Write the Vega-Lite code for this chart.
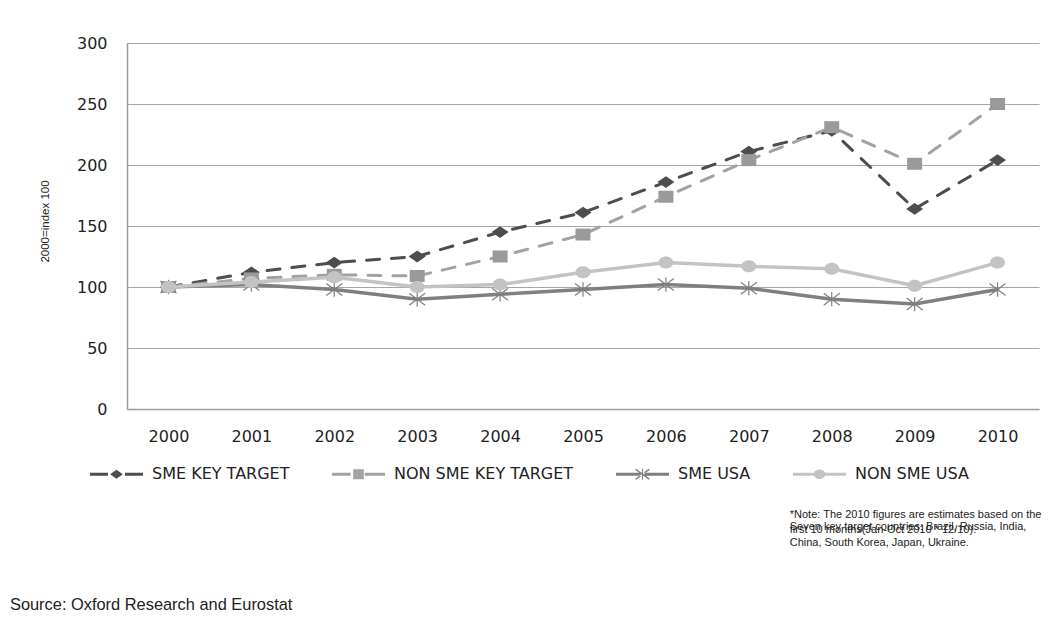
{
  "$schema": "https://vega.github.io/schema/vega-lite/v6.json",
  "width": 912,
  "height": 366,
  "autosize": {"type": "none"},
  "padding": {"left": 127, "top": 43, "right": 9, "bottom": 211},
  "background": "white",
  "config": {"view": {"stroke": null}, "font": "DejaVu Sans"},
  "data": {
    "values": [
      {"year": "2000", "series": "SME KEY TARGET", "value": 100},
      {"year": "2001", "series": "SME KEY TARGET", "value": 112},
      {"year": "2002", "series": "SME KEY TARGET", "value": 120},
      {"year": "2003", "series": "SME KEY TARGET", "value": 125},
      {"year": "2004", "series": "SME KEY TARGET", "value": 145},
      {"year": "2005", "series": "SME KEY TARGET", "value": 161},
      {"year": "2006", "series": "SME KEY TARGET", "value": 186},
      {"year": "2007", "series": "SME KEY TARGET", "value": 211},
      {"year": "2008", "series": "SME KEY TARGET", "value": 228},
      {"year": "2009", "series": "SME KEY TARGET", "value": 164},
      {"year": "2010", "series": "SME KEY TARGET", "value": 204},
      {"year": "2000", "series": "NON SME KEY TARGET", "value": 100},
      {"year": "2001", "series": "NON SME KEY TARGET", "value": 107},
      {"year": "2002", "series": "NON SME KEY TARGET", "value": 110},
      {"year": "2003", "series": "NON SME KEY TARGET", "value": 109},
      {"year": "2004", "series": "NON SME KEY TARGET", "value": 125},
      {"year": "2005", "series": "NON SME KEY TARGET", "value": 143},
      {"year": "2006", "series": "NON SME KEY TARGET", "value": 174},
      {"year": "2007", "series": "NON SME KEY TARGET", "value": 204},
      {"year": "2008", "series": "NON SME KEY TARGET", "value": 231},
      {"year": "2009", "series": "NON SME KEY TARGET", "value": 201},
      {"year": "2010", "series": "NON SME KEY TARGET", "value": 250},
      {"year": "2000", "series": "SME USA", "value": 100},
      {"year": "2001", "series": "SME USA", "value": 102},
      {"year": "2002", "series": "SME USA", "value": 98},
      {"year": "2003", "series": "SME USA", "value": 90},
      {"year": "2004", "series": "SME USA", "value": 94},
      {"year": "2005", "series": "SME USA", "value": 98},
      {"year": "2006", "series": "SME USA", "value": 102},
      {"year": "2007", "series": "SME USA", "value": 99},
      {"year": "2008", "series": "SME USA", "value": 90},
      {"year": "2009", "series": "SME USA", "value": 86},
      {"year": "2010", "series": "SME USA", "value": 98},
      {"year": "2000", "series": "NON SME USA", "value": 100},
      {"year": "2001", "series": "NON SME USA", "value": 104},
      {"year": "2002", "series": "NON SME USA", "value": 108},
      {"year": "2003", "series": "NON SME USA", "value": 100},
      {"year": "2004", "series": "NON SME USA", "value": 102},
      {"year": "2005", "series": "NON SME USA", "value": 112},
      {"year": "2006", "series": "NON SME USA", "value": 120},
      {"year": "2007", "series": "NON SME USA", "value": 117},
      {"year": "2008", "series": "NON SME USA", "value": 115},
      {"year": "2009", "series": "NON SME USA", "value": 101},
      {"year": "2010", "series": "NON SME USA", "value": 120}
    ]
  },
  "encoding": {
    "x": {
      "field": "year",
      "type": "ordinal",
      "scale": {"type": "point", "padding": 0.5},
      "axis": {
        "title": null,
        "labelAngle": 0,
        "labelFont": "DejaVu Sans",
        "labelFontSize": 16,
        "labelColor": "#222222",
        "labelPadding": 19,
        "ticks": false,
        "domainColor": "#9a9a9a",
        "domainWidth": 1.5,
        "grid": false
      }
    },
    "y": {
      "field": "value",
      "type": "quantitative",
      "scale": {"domain": [0, 300], "nice": false},
      "axis": {
        "title": "2000=index 100",
        "values": [0, 50, 100, 150, 200, 250, 300],
        "titleFont": "Liberation Sans",
        "titleFontSize": 11.5,
        "titleFontWeight": "normal",
        "titleColor": "#222222",
        "titleX": -82,
        "titleY": 178,
        "titleBaseline": "middle",
        "labelFont": "DejaVu Sans",
        "labelFontSize": 16,
        "labelColor": "#222222",
        "labelPadding": 20,
        "ticks": false,
        "domainColor": "#9a9a9a",
        "domainWidth": 1.5,
        "gridColor": "#a6a6a6",
        "gridWidth": 1
      }
    }
  },
  "layer": [
    {
      "transform": [{"filter": "datum.series === 'SME KEY TARGET'"}],
      "mark": {"type": "line", "strokeWidth": 3, "strokeCap": "round", "strokeDash": [13, 12], "color": "#4d4d4d"}
    },
    {
      "transform": [{"filter": "datum.series === 'SME KEY TARGET'"}],
      "mark": {"type": "point", "shape": "M-1,0L0,-0.7L1,0L0,0.7Z", "filled": true, "color": "#4d4d4d", "size": 289, "opacity": 1}
    },
    {
      "transform": [{"filter": "datum.series === 'NON SME KEY TARGET'"}],
      "mark": {"type": "line", "strokeWidth": 3, "strokeCap": "round", "strokeDash": [13, 12], "color": "#a2a2a2"}
    },
    {
      "transform": [{"filter": "datum.series === 'NON SME KEY TARGET'"}],
      "mark": {"type": "point", "shape": "M-1,-0.8L1,-0.8L1,0.8L-1,0.8Z", "filled": true, "color": "#9a9a9a", "size": 225, "opacity": 1}
    },
    {
      "transform": [{"filter": "datum.series === 'SME USA'"}],
      "mark": {"type": "line", "strokeWidth": 3.5, "strokeCap": "round", "color": "#7f7f7f"}
    },
    {
      "transform": [{"filter": "datum.series === 'SME USA'"}],
      "mark": {"type": "point", "shape": "M-1,-0.75L1,0.75M-1,0.75L1,-0.75M0,-0.9L0,0.9", "filled": false, "color": "#808080", "strokeWidth": 1.2, "size": 256, "opacity": 1}
    },
    {
      "transform": [{"filter": "datum.series === 'NON SME USA'"}],
      "mark": {"type": "line", "strokeWidth": 3.5, "strokeCap": "round", "color": "#c3c3c3"}
    },
    {
      "transform": [{"filter": "datum.series === 'NON SME USA'"}],
      "mark": {"type": "point", "shape": "M-1,0A1,0.8 0 1,1 1,0A1,0.8 0 1,1 -1,0Z", "filled": true, "color": "#c3c3c3", "size": 225, "opacity": 1}
    },
    {
      "transform": [{"filter": "datum.year === '2000'"}],
      "mark": {"type": "point", "filled": true},
      "encoding": {
        "y": {"datum": 3000},
        "fill": {
          "field": "series",
          "type": "nominal",
          "scale": {
            "domain": ["SME KEY TARGET", "NON SME KEY TARGET", "SME USA", "NON SME USA"],
            "range": ["#4d4d4d", "#a2a2a2", "#7f7f7f", "#c3c3c3"]
          },
          "legend": {
            "title": null, "orient": "none", "legendX": -37, "legendY": 404.5,
            "direction": "horizontal", "symbolSize": 2809, "symbolStrokeWidth": 0,
            "symbolOpacity": 1,
            "labelFont": "DejaVu Sans", "labelFontSize": 16,
            "labelColor": "#222222", "labelOffset": 9, "columnPadding": 42,
            "padding": 0, "labelLimit": 400
          }
        },
        "shape": {
          "field": "series",
          "type": "nominal",
          "scale": {
            "domain": ["SME KEY TARGET", "NON SME KEY TARGET", "SME USA", "NON SME USA"],
            "range": [
              "M-1,-0.057L-0.32,-0.057L-0.32,0.057L-1,0.057Z M-0.24,0L0,-0.17L0.24,0L0,0.17Z M0.32,-0.057L1,-0.057L1,0.057L0.32,0.057Z",
              "M-1,-0.057L-0.3,-0.057L-0.3,0.057L-1,0.057Z M-0.2,-0.19L0.2,-0.19L0.2,0.19L-0.2,0.19Z M0.24,-0.057L1,-0.057L1,0.057L0.24,0.057Z",
              "M-1,-0.06L1,-0.06L1,0.06L-1,0.06Z M-0.28,-0.17L-0.24,-0.21L0.28,0.17L0.24,0.21Z M-0.28,0.17L-0.24,0.21L0.28,-0.17L0.24,-0.21Z M-0.02,-0.21L0.02,-0.21L0.02,0.21L-0.02,0.21Z",
              "M-1,-0.057L1,-0.057L1,0.057L-1,0.057Z M-0.22,0A0.22,0.18 0 1,1 0.22,0A0.22,0.18 0 1,1 -0.22,0Z"
            ]
          },
          "legend": {
            "title": null, "orient": "none", "legendX": -37, "legendY": 404.5,
            "direction": "horizontal", "symbolSize": 2809, "symbolStrokeWidth": 0,
            "symbolOpacity": 1,
            "labelFont": "DejaVu Sans", "labelFontSize": 16,
            "labelColor": "#222222", "labelOffset": 9, "columnPadding": 42,
            "padding": 0, "labelLimit": 400
          }
        }
      }
    },
    {
      "transform": [{"filter": "datum.year === '2000' && datum.series === 'SME USA'"}],
      "mark": {"type": "text", "text": "*Note: The 2010 figures are estimates based on the", "align": "left", "baseline": "middle", "dx": -42, "font": "Liberation Sans", "fontSize": 11, "color": "#222222"},
      "encoding": {"x": {"datum": "2008"}, "y": {"datum": -86.9}}
    },
    {
      "transform": [{"filter": "datum.year === '2000' && datum.series === 'SME USA'"}],
      "mark": {"type": "text", "text": "first 10 months(Jan-Oct 2010 * 12/10).", "align": "left", "baseline": "middle", "dx": -42, "font": "Liberation Sans", "fontSize": 11, "color": "#222222"},
      "encoding": {"x": {"datum": "2008"}, "y": {"datum": -99.2}}
    },
    {
      "transform": [{"filter": "datum.year === '2000' && datum.series === 'SME USA'"}],
      "mark": {"type": "text", "text": "Seven key target countries: Brazil, Russia, India,", "align": "left", "baseline": "middle", "dx": -42, "font": "Liberation Sans", "fontSize": 11, "color": "#222222"},
      "encoding": {"x": {"datum": "2008"}, "y": {"datum": -96.7}}
    },
    {
      "transform": [{"filter": "datum.year === '2000' && datum.series === 'SME USA'"}],
      "mark": {"type": "text", "text": "China, South Korea, Japan, Ukraine.", "align": "left", "baseline": "middle", "dx": -42, "font": "Liberation Sans", "fontSize": 11, "color": "#222222"},
      "encoding": {"x": {"datum": "2008"}, "y": {"datum": -109.8}}
    },
    {
      "transform": [{"filter": "datum.year === '2000' && datum.series === 'SME USA'"}],
      "mark": {"type": "text", "text": "Source: Oxford Research and Eurostat", "align": "left", "baseline": "middle", "dx": -158.5, "font": "Liberation Sans", "fontSize": 16.4, "color": "#222222"},
      "encoding": {"x": {"datum": "2000"}, "y": {"datum": -160.7}}
    }
  ]
}
